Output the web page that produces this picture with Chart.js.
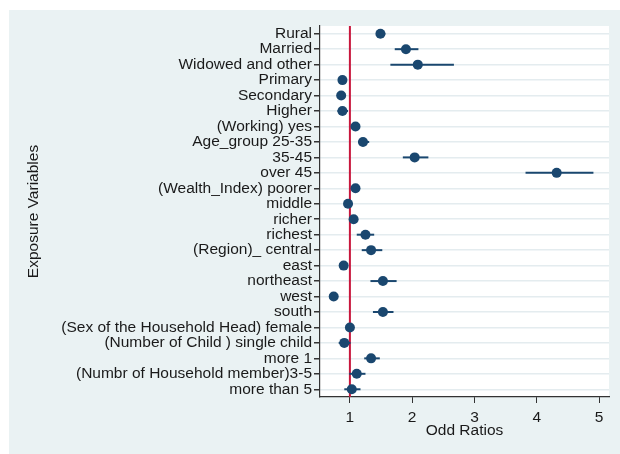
<!DOCTYPE html>
<html>
<head>
<meta charset="utf-8">
<script src="https://cdn.jsdelivr.net/npm/chart.js@4.4.0/dist/chart.umd.min.js"></script>
<style>
  body { margin:0; background:#ffffff; }
  #wrap { position:absolute; left:9px; top:10px; width:611px; height:444px; background:#eaf2f3; }
</style>
</head>
<body>
<div id="wrap"><canvas id="forestChart" width="611" height="444"></canvas></div>
<script>
// exposure variables, top to bottom
const labels = [
  'Rural', 'Married', 'Widowed and other', 'Primary', 'Secondary', 'Higher',
  '(Working) yes', 'Age_group 25-35', '35-45', 'over 45',
  '(Wealth_Index) poorer', 'middle', 'richer', 'richest',
  '(Region)_ central', 'east', 'northeast', 'west', 'south',
  '(Sex of the Household Head) female', '(Number of Child ) single child', 'more 1',
  '(Numbr of Household member)3-5', 'more than 5'
];
const oddRatio = [1.49, 1.90, 2.09, 0.88, 0.86, 0.88, 1.09, 1.21, 2.04, 4.32,
  1.09, 0.97, 1.06, 1.25, 1.34, 0.90, 1.53, 0.74, 1.53, 1.00, 0.91, 1.34, 1.11, 1.03];
const lower = [1.43, 1.72, 1.65, 0.81, 0.80, 0.80, 1.03, 1.13, 1.85, 3.82,
  1.03, 0.91, 0.99, 1.11, 1.19, 0.84, 1.33, 0.69, 1.37, 0.94, 0.82, 1.23, 0.99, 0.91];
const upper = [1.57, 2.10, 2.67, 0.95, 0.93, 0.97, 1.15, 1.31, 2.26, 4.91,
  1.16, 1.04, 1.13, 1.39, 1.52, 0.96, 1.75, 0.79, 1.70, 1.06, 1.01, 1.48, 1.25, 1.17];
const xTicks = [1, 2, 3, 4, 5];
const refValue = 1;

const navy = '#1a476f';
const textFont = { family: 'Arial', size: 15.5 };

const plotBg = {
  id: 'plotBg',
  beforeDraw(chart) {
    const a = chart.chartArea;
    chart.ctx.save();
    chart.ctx.fillStyle = '#ffffff';
    chart.ctx.fillRect(a.left, a.top, a.right - a.left, a.bottom - a.top);
    chart.ctx.restore();
  }
};

const errorBars = {
  id: 'errorBars',
  beforeDatasetsDraw(chart) {
    const ctx = chart.ctx;
    const xs = chart.scales.x, ys = chart.scales.y;
    const area = chart.chartArea;
    ctx.save();
    // reference line at OR = 1
    ctx.strokeStyle = '#c8163c';
    ctx.lineWidth = 2;
    const rx = xs.getPixelForValue(refValue);
    ctx.beginPath();
    ctx.moveTo(rx, area.top);
    ctx.lineTo(rx, area.bottom);
    ctx.stroke();
    // confidence intervals
    ctx.strokeStyle = navy;
    ctx.lineWidth = 2;
    labels.forEach((l, i) => {
      const y = ys.getPixelForValue(i);
      ctx.beginPath();
      ctx.moveTo(xs.getPixelForValue(lower[i]), y);
      ctx.lineTo(xs.getPixelForValue(upper[i]), y);
      ctx.stroke();
    });
    ctx.restore();
  }
};

new Chart(document.getElementById('forestChart'), {
  type: 'scatter',
  data: {
    datasets: [{
      data: oddRatio.map((v, i) => ({ x: v, y: i })),
      backgroundColor: navy,
      borderWidth: 0,
      pointRadius: 5
    }]
  },
  options: {
    responsive: false,
    animation: false,
    devicePixelRatio: 1,
    layout: { padding: { top: 16, right: 11, left: 0, bottom: 0 } },
    plugins: { legend: { display: false }, tooltip: { enabled: false } },
    scales: {
      x: {
        type: 'linear',
        min: 0.52,
        max: 5.16,
        afterBuildTicks: s => { s.ticks = xTicks.map(v => ({ value: v })); },
        afterFit: s => { s.height = 57; },
        grid: { drawOnChartArea: false, drawTicks: true, tickLength: 6, tickColor: '#333' },
        border: { color: '#333', width: 1.2 },
        ticks: { color: '#1a1a1a', font: textFont, padding: 5 },
        title: { display: true, text: 'Odd Ratios', color: '#1a1a1a', font: textFont, padding: { top: 0, bottom: 14 } }
      },
      y: {
        type: 'linear',
        reverse: true,
        min: -0.5,
        max: 23.5,
        afterBuildTicks: s => { s.ticks = labels.map((l, i) => ({ value: i })); },
        afterFit: s => { s.width = 311; },
        grid: { color: '#e4ecef', lineWidth: 1.5, drawTicks: true, tickLength: 6, tickColor: '#333' },
        border: { color: '#333', width: 1.2 },
        ticks: {
          color: '#1a1a1a',
          font: textFont,
          padding: 2,
          autoSkip: false,
          callback: v => labels[v]
        },
        title: { display: true, text: 'Exposure Variables', color: '#1a1a1a', font: textFont, padding: { top: 15, bottom: 4 } }
      }
    }
  },
  plugins: [plotBg, errorBars]
});
</script>
</body>
</html>
